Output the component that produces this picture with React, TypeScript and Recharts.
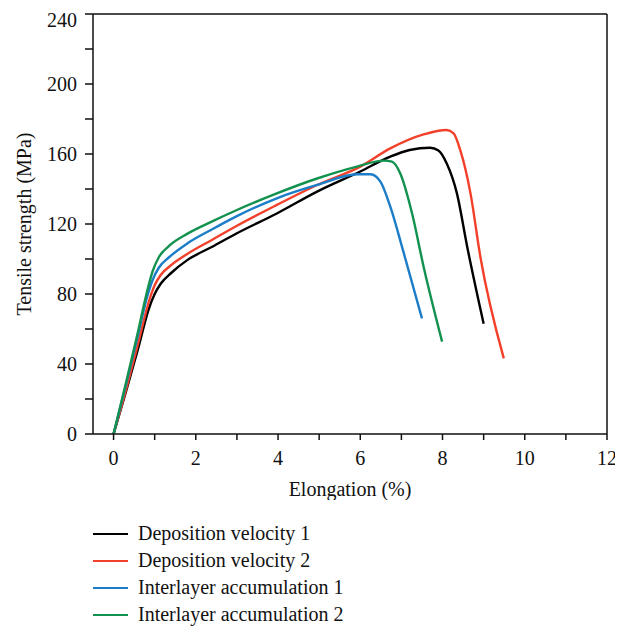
import { Line, LineChart, ReferenceLine, XAxis, YAxis } from "recharts";

const INK = "#111";
const FONT = "'Liberation Serif', 'DejaVu Serif', serif";

// Series names / colours (legend order)
const SERIES_NAMES = [
  "Deposition velocity 1",
  "Deposition velocity 2",
  "Interlayer accumulation 1",
  "Interlayer accumulation 2",
];
const SERIES_COLORS = ["#000000", "#f2402a", "#1b7cc8", "#13914f"];

// Elongation (%) and tensile strength (MPa)
const DV1_X = [0, 0.3, 0.6, 0.85, 1.0, 1.15, 1.4, 1.8, 2.4, 3.0, 3.97, 4.95, 6.0, 6.73, 7.2, 7.7, 7.9, 8.1, 8.35, 8.6, 9.0];
const DV1_Y = [0, 24, 49, 71, 80, 86, 92, 99.5, 107, 114.7, 126, 138.5, 150, 158.5, 162.3, 163.6, 162, 154.7, 137.5, 107, 63];

const DV2_X = [0, 0.3, 0.6, 0.85, 1.0, 1.15, 1.4, 1.8, 2.4, 3.0, 3.97, 4.95, 6.0, 6.73, 7.54, 8.1, 8.27, 8.43, 8.68, 8.92, 9.49];
const DV2_Y = [0, 25, 52, 75, 85, 91, 96.5, 103, 111, 119, 130.9, 142.3, 152.8, 163.2, 171.2, 173.7, 171.8, 162.3, 137.5, 101.3, 43.2];

const IA1_X = [0, 0.3, 0.6, 0.8, 0.95, 1.1, 1.35, 1.8, 2.4, 3.0, 3.97, 4.95, 5.92, 6.25, 6.49, 6.73, 7.06, 7.5];
const IA1_Y = [0, 28, 57, 77, 88, 95, 101, 109, 117, 124.5, 134.7, 142.3, 148.4, 148.4, 144.2, 129.9, 103.2, 66.1];

const IA2_X = [0, 0.3, 0.6, 0.8, 0.95, 1.1, 1.35, 1.8, 2.4, 3.0, 3.97, 4.95, 5.92, 6.57, 6.77, 6.97, 7.26, 7.54, 7.99];
const IA2_Y = [0, 29, 59, 80, 93, 101, 107.5, 114.5, 121.5, 128, 137.5, 146, 152.8, 156.2, 155.6, 149, 126, 95.6, 52.8];

const X_TICKS = [0, 1, 2, 3, 4, 5, 6, 7, 8, 9, 10, 11, 12];
const Y_TICKS = [0, 20, 40, 60, 80, 100, 120, 140, 160, 180, 200, 220, 240];

const zip = (xs: number[], ys: number[]) => xs.map((x, i) => ({ x, y: ys[i] }));
const SERIES_DATA = [zip(DV1_X, DV1_Y), zip(DV2_X, DV2_Y), zip(IA1_X, IA1_Y), zip(IA2_X, IA2_Y)];

const tickStyle = { fontSize: 20, fill: INK, fontFamily: FONT };
const labelStyle = { fontSize: 20, fill: INK, fontFamily: FONT };

export default function App() {
  return (
    <div style={{ width: 615, fontFamily: FONT }}>
      <LineChart width={615} height={492} margin={{ top: 6, right: 16, bottom: 0, left: 0 }}>
        <XAxis
          type="number"
          dataKey="x"
          domain={[-0.5, 12]}
          ticks={X_TICKS}
          allowDataOverflow
          tickFormatter={(v: number) => (v % 2 === 0 ? String(v) : "")}
          tick={tickStyle}
          tickSize={6}
          tickMargin={11}
          height={66}
          stroke={INK}
          strokeWidth={1.5}
          label={{ value: "Elongation (%)", position: "insideBottom", offset: 4, style: labelStyle }}
        />
        <YAxis
          type="number"
          domain={[0, 240]}
          ticks={Y_TICKS}
          allowDataOverflow
          tickFormatter={(v: number) => (v % 40 === 0 ? String(v) : "")}
          tick={tickStyle}
          tickSize={8}
          tickMargin={8}
          width={85}
          stroke={INK}
          strokeWidth={1.5}
          label={{
            value: "Tensile strength (MPa)",
            angle: -90,
            position: "insideLeft",
            offset: 16,
            style: { ...labelStyle, textAnchor: "middle" },
          }}
        />
        {/* top and right frame */}
        <ReferenceLine y={240} stroke={INK} strokeWidth={1.5} />
        <ReferenceLine x={12} stroke={INK} strokeWidth={1.5} />
        {SERIES_DATA.map((d, i) => (
          <Line
            key={SERIES_NAMES[i]}
            data={d}
            dataKey="y"
            name={SERIES_NAMES[i]}
            type="monotone"
            stroke={SERIES_COLORS[i]}
            strokeWidth={2.4}
            dot={false}
            isAnimationActive={false}
          />
        ))}
      </LineChart>
      <div style={{ marginTop: 20, marginLeft: 85 }}>
        {SERIES_NAMES.map((n, i) => (
          <div key={n} style={{ display: "flex", alignItems: "center", height: 27 }}>
            <span style={{ display: "inline-block", width: 35, height: 2, background: SERIES_COLORS[i], marginRight: 10 }} />
            <span style={{ fontSize: 20, color: INK }}>{n}</span>
          </div>
        ))}
      </div>
    </div>
  );
}
